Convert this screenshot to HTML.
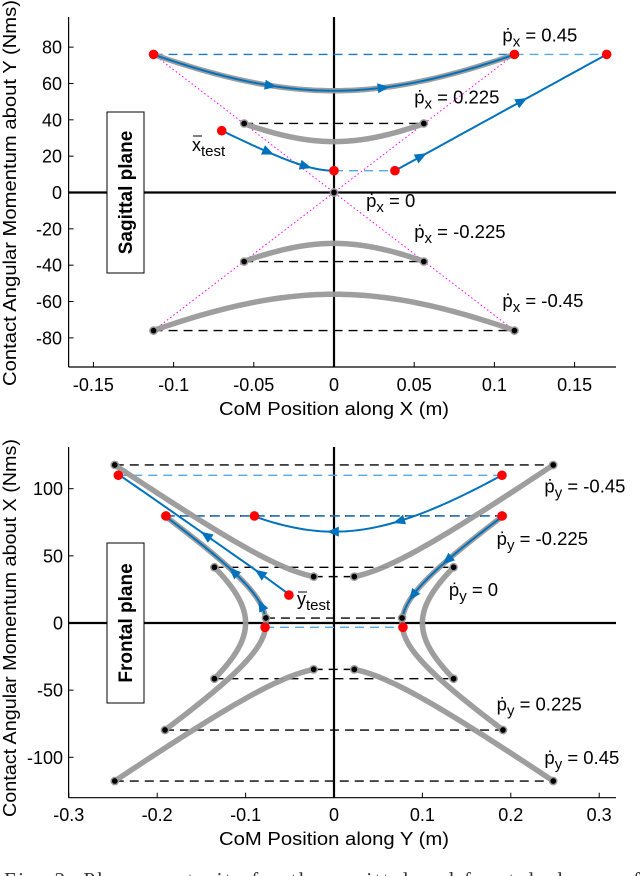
<!DOCTYPE html>
<html><head><meta charset="utf-8"><style>
html,body{margin:0;padding:0;background:#fff;width:640px;height:876px;overflow:hidden}
svg{display:block;font-family:"Liberation Sans",Arial,sans-serif}
</style></head><body>
<svg id="fig" width="640" height="876" viewBox="0 0 640 876">
<g id="top"></g>
<g id="bot"></g>
<text x="4" y="887" font-family="Liberation Serif,serif" font-size="21" fill="#333" textLength="636" lengthAdjust="spacing">Fig. 3:  Phase portraits for the sagittal and frontal planes of</text>
</svg>
<script>
// ---- data ----
const K = 207500;
// sagittal
const sagXTicks = [-0.15,-0.1,-0.05,0,0.05,0.1,0.15];
const sagXTickLabels = ["-0.15","-0.1","-0.05","0","0.05","0.1","0.15"];
const sagYTicks = [80,60,40,20,0,-20,-40,-60,-80];
const sagYTickLabels = ["80","60","40","20","0","-20","-40","-60","-80"];
const sagMins = [56,28,-28,-56];
const sagEndX = [0.1125,0.056,0.056,0.1125];
const sagEndL = [76,38,-38,-76];
const sagLabels = ["0.45","0.225","0","-0.225","-0.45"];
const sagLabelX = [0.105,0.05,0.02,0.05,0.105];
const sagLabelL = [83,49,-8,-25,-63];
const sagRed = [[-0.1125,76],[0.1125,76],[0.17,76],[-0.07,34],[0,12],[0.038,12]];
const sagTestMin = 12, sagTestStart = -0.07;
const sagLineStart = [0.038,12], sagLineEnd = [0.17,76];
// frontal
const frXTicks = [-0.3,-0.2,-0.1,0,0.1,0.2,0.3];
const frXTickLabels = ["-0.3","-0.2","-0.1","0","0.1","0.2","0.3"];
const frYTicks = [100,50,0,-50,-100];
const frYTickLabels = ["100","50","0","-50","-100"];
const frOuterMin = 32.9, frOuterY0 = 0.023, frOuterY1 = 0.248;
const frSideC = [0.01,0.00593];
const frSideL = [41.5,79.7];
const frLabels = ["-0.45","-0.225","0","0.225","0.45"];
const frLabelY = [0.238,0.184,0.13,0.184,0.238];
const frLabelL = [97,58,20,-65,-105];
const frRed = [[-0.244,110],[0.19,110],[-0.19,79.7],[-0.09,79.7],[0.19,79.7],[-0.051,20.8],[-0.078,-3.2],[0.078,-3.2]];
const frArcMin = 68;
const frTestC = 0.00041, frTestL0 = 20.8, frTestL1 = 110;

// ---- scales ----
const sx = x => 334 + x*1604, sy = v => 192.5 - v*1.817;
const fx = y => 334 + y*884, fy = v => 623 - v*1.343;
const NS = 'http://www.w3.org/2000/svg';
function mk(parent, tag, attrs){ const e=document.createElementNS(NS,tag); for(const k in attrs) e.setAttribute(k,attrs[k]); parent.appendChild(e); return e; }
function pstr(pts){ return pts.map((p,i)=>(i?'L':'M')+p[0].toFixed(2)+' '+p[1].toFixed(2)).join(''); }
function hypV(L0,x0,x1,n){ const s=Math.sign(L0)||1, r=[]; for(let i=0;i<=n;i++){const x=x0+(x1-x0)*i/n; r.push([x, s*Math.sqrt(L0*L0+K*x*x)]);} return r; }
function hypS(c,sg,L0,L1,n){ const r=[]; for(let i=0;i<=n;i++){const L=L0+(L1-L0)*i/n; r.push([sg*Math.sqrt(c+L*L/K), L]);} return r; }
function arrow(g, pts, t, name){
  const i=Math.max(1,Math.min(pts.length-1,Math.round(t*(pts.length-1))));
  const a=pts[i-1], b=pts[i]; const dx=b[0]-a[0], dy=b[1]-a[1], d=Math.hypot(dx,dy)||1;
  const ux=dx/d, uy=dy/d, cx=b[0], cy=b[1];
  const tip=[cx+ux*6,cy+uy*6], l=[cx-ux*6-uy*5,cy-uy*6+ux*5], r=[cx-ux*6+uy*5,cy-uy*6-ux*5];
  const e=mk(g,'path',{d:pstr([tip,l,r])+'Z',fill:'#0072BD'});
  
  
}
function line(g,x1,y1,x2,y2,st,name){ const e=mk(g,'line',Object.assign({x1,y1,x2,y2},st));   return e; }
function path(g,pts,st,name){ const e=mk(g,'path',Object.assign({d:pstr(pts),fill:'none'},st));   return e; }
function dot(g,x,y,kind,name){ const e = kind==='red'? mk(g,'circle',{cx:x,cy:y,r:4.8,fill:'#FF0000'}) : mk(g,'circle',{cx:x,cy:y,r:3.6,fill:'#000',stroke:'#999','stroke-width':1.5});   }
function txt(g,x,y,s,attrs,name){ const e=mk(g,'text',Object.assign({x,y,'font-size':18,fill:'#000'},attrs||{})); e.textContent=s;   return e; }
function pLabel(g,x,y,sub,val,name){
  const e=mk(g,'text',{x,y,'font-size':18.5,fill:'#000'});
   
  const a=mk(e,'tspan',{}); a.textContent='\u1E57';
  const b=mk(e,'tspan',{dy:5,'font-size':15}); b.textContent=sub;
  const c=mk(e,'tspan',{dy:-5}); c.textContent=' = '+val;
}
const GRAY={stroke:'#999','stroke-width':5.5,'stroke-linecap':'round','stroke-opacity':0.95};
const BLUE={stroke:'#0072BD','stroke-width':2};
const DASHK={stroke:'#000','stroke-width':1.4,'stroke-dasharray':'9,6'};
const DASHB={stroke:'#1f78c8','stroke-width':1.4,'stroke-dasharray':'9,6'};
const DASHLB={stroke:'#5aa8e0','stroke-width':1.4,'stroke-dasharray':'9,6'};
const MAG={stroke:'#ff00ff','stroke-width':1,'stroke-dasharray':'1.5,2.5'};

function axes(g,X0,X1,Y0,Y1,xs,ys,xt,xtl,yt,ytl,tickLabY,yLabX,xtitle,ytitle,ytitleY,ytitleLen,xtitleY){
  line(g,X0,Y1,X1,Y1,{stroke:'#000','stroke-width':1.2},'x-axis');
  line(g,X0,Y0,X0,Y1,{stroke:'#000','stroke-width':1.2},'y-axis');
  xt.forEach((v,i)=>{ line(g,xs(v),Y1,xs(v),Y1-5,{stroke:'#000','stroke-width':1},'x-tick');
    txt(g,xs(v),tickLabY,xtl[i],{'text-anchor':'middle'},'x-tick-label'); });
  yt.forEach((v,i)=>{ line(g,X0,ys(v),X0+5,ys(v),{stroke:'#000','stroke-width':1},'y-tick');
    txt(g,yLabX,ys(v)+6.5,ytl[i],{'text-anchor':'end'},'y-tick-label'); });
  txt(g,334,xtitleY,xtitle,{'text-anchor':'middle','font-size':18,textLength:230,lengthAdjust:'spacingAndGlyphs'},'x-axis-title');
  txt(g,0,0,ytitle,{'text-anchor':'middle','font-size':18,transform:`translate(16,${ytitleY}) rotate(-90)`,textLength:ytitleLen,lengthAdjust:'spacingAndGlyphs'},'y-axis-title');
}

// ---- sagittal ----
(function(){
  const g=document.getElementById('top');
  axes(g,68.6,616,17,367,sx,sy,sagXTicks,sagXTickLabels,sagYTicks,sagYTickLabels,391,62,'CoM Position along X (m)','Contact Angular Momentum about Y (Nms)',193,386,415);
  line(g,sx(0),17,sx(0),367,{stroke:'#000','stroke-width':2.2},'zero-vertical-line');
  line(g,68.6,sy(0),616,sy(0),{stroke:'#000','stroke-width':2.2},'zero-horizontal-line');
  line(g,sx(-sagEndX[0]),sy(sagEndL[0]),sx(sagEndX[0]),sy(-sagEndL[0]),MAG,'asymptote');
  line(g,sx(sagEndX[0]),sy(sagEndL[0]),sx(-sagEndX[0]),sy(-sagEndL[0]),MAG,'asymptote');
  sagEndL.forEach((L,i)=>{ if(i===0) return; line(g,sx(-sagEndX[i]),sy(L),sx(sagEndX[i]),sy(L),DASHK,'dashed-level'); });
  line(g,sx(-sagEndX[0]),sy(76),sx(sagEndX[0]),sy(76),DASHB,'dashed-level-blue');
  line(g,sx(sagEndX[0]),sy(76),sx(sagRed[2][0]),sy(76),DASHLB,'dashed-level-lightblue');
  line(g,sx(0),sy(sagTestMin),sx(sagLineStart[0]),sy(sagTestMin),DASHLB,'dashed-level-lightblue');
  sagMins.forEach((m,i)=>{ const p=hypV(m,-sagEndX[i],sagEndX[i],60).map(q=>[sx(q[0]),sy(q[1])]); path(g,p,GRAY,'trajectory-curve'); });
  const b1=hypV(sagMins[0],-sagEndX[0],sagEndX[0],80).map(q=>[sx(q[0]),sy(q[1])]);
  path(g,b1,BLUE,'blue-trajectory'); arrow(g,b1,0.33,'arrow'); arrow(g,b1,0.64,'arrow');
  const b2=hypV(sagTestMin,sagTestStart,0,60).map(q=>[sx(q[0]),sy(q[1])]);
  path(g,b2,BLUE,'blue-trajectory'); arrow(g,b2,0.42,'arrow'); arrow(g,b2,0.75,'arrow');
  const b3=[]; for(let i=0;i<=40;i++){const t=i/40; b3.push([sx(sagLineStart[0]+(sagLineEnd[0]-sagLineStart[0])*t), sy(sagLineStart[1]+(sagLineEnd[1]-sagLineStart[1])*t)]);}
  path(g,b3,BLUE,'blue-trajectory'); arrow(g,b3,0.13,'arrow'); arrow(g,b3,0.6,'arrow');
  sagEndL.forEach((L,i)=>{ dot(g,sx(-sagEndX[i]),sy(L),'k','endpoint'); dot(g,sx(sagEndX[i]),sy(L),'k','endpoint'); });
  dot(g,sx(0),sy(0),'k','origin-point');
  sagRed.forEach(p=>dot(g,sx(p[0]),sy(p[1]),'red','initial-state'));
  sagLabels.forEach((s,i)=>pLabel(g,sx(sagLabelX[i]),sy(sagLabelL[i]),'x',s,'velocity-label'));
  const xt=txt(g,192,151,'x',{'font-size':18},'x-test-label'); const ts=mk(xt,'tspan',{dy:5,'font-size':15}); ts.textContent='test';
  line(g,193,136,202,136,{stroke:'#000','stroke-width':1},'x-test-bar');
  const r=mk(g,'rect',{x:107,y:112,width:37,height:161,fill:'#fff',stroke:'#000','stroke-width':1});
   
  txt(g,0,0,'Sagittal plane',{'font-size':19,'font-weight':'bold','text-anchor':'middle',transform:'translate(132,192.5) rotate(-90)'},'sagittal-plane-label');
})();

// ---- frontal ----
(function(){
  const g=document.getElementById('bot');
  axes(g,68.6,616,447,797.7,fx,fy,frXTicks,frXTickLabels,frYTicks,frYTickLabels,821,63,'CoM Position along Y (m)','Contact Angular Momentum about X (Nms)',628,378,845);
  line(g,fx(0),447,fx(0),797.7,{stroke:'#000','stroke-width':2.2},'zero-vertical-line');
  line(g,68.6,fy(0),616,fy(0),{stroke:'#000','stroke-width':2.2},'zero-horizontal-line');
  const Lout=Math.sqrt(frOuterMin*frOuterMin+K*frOuterY1*frOuterY1), Lin=Math.sqrt(frOuterMin*frOuterMin+K*frOuterY0*frOuterY0);
  [1,-1].forEach(s=>{
    line(g,fx(-frOuterY1),fy(s*Lout),fx(frOuterY1),fy(s*Lout),DASHK,'dashed-level');
    line(g,fx(-frOuterY0),fy(s*Lin),fx(frOuterY0),fy(s*Lin),DASHK,'dashed-level');
    frSideC.forEach((c,i)=>{ const yy=Math.sqrt(c+frSideL[i]*frSideL[i]/K); line(g,fx(-yy),fy(s*frSideL[i]),fx(yy),fy(s*frSideL[i]),DASHK,'dashed-level'); });
  });
  line(g,fx(-0.077),fy(3.7),fx(0.077),fy(3.7),DASHK,'dashed-level');
  line(g,fx(frRed[0][0]),fy(110),fx(frRed[1][0]),fy(110),DASHLB,'dashed-level-lightblue');
  line(g,fx(frRed[2][0]),fy(79.7),fx(frRed[4][0]),fy(79.7),DASHB,'dashed-level-blue');
  line(g,fx(-0.078),fy(-3.2),fx(0.078),fy(-3.2),DASHLB,'dashed-level-lightblue');
  [1,-1].forEach(sl=>[1,-1].forEach(sg=>{
    const p=[]; for(let i=0;i<=50;i++){const y=frOuterY0+(frOuterY1-frOuterY0)*i/50; p.push([fx(sg*y),fy(sl*Math.sqrt(frOuterMin*frOuterMin+K*y*y))]);}
    path(g,p,GRAY,'trajectory-curve');
  }));
  [1,-1].forEach(sg=>frSideC.forEach((c,i)=>{ const p=hypS(c,sg,-frSideL[i],frSideL[i],70).map(q=>[fx(q[0]),fy(q[1])]); path(g,p,GRAY,'trajectory-curve'); }));
  const b1=[]; for(let i=0;i<=60;i++){const y=frRed[1][0]+(frRed[3][0]-frRed[1][0])*i/60; b1.push([fx(y),fy(Math.sqrt(frArcMin*frArcMin+K*y*y))]);}
  path(g,b1,BLUE,'blue-trajectory'); arrow(g,b1,0.42,'arrow'); arrow(g,b1,0.68,'arrow');
  const b2=hypS(frTestC,-1,frTestL0,frTestL1,60).map(q=>[fx(q[0]),fy(q[1])]);
  path(g,b2,BLUE,'blue-trajectory'); arrow(g,b2,0.18,'arrow'); arrow(g,b2,0.5,'arrow');
  const b3=hypS(frSideC[1],-1,-3.2,79.7,60).map(q=>[fx(q[0]),fy(q[1])]);
  path(g,b3,BLUE,'blue-trajectory'); arrow(g,b3,0.2,'arrow'); arrow(g,b3,0.5,'arrow');
  const b4=hypS(frSideC[1],1,79.7,-3.2,60).map(q=>[fx(q[0]),fy(q[1])]);
  path(g,b4,BLUE,'blue-trajectory'); arrow(g,b4,0.4,'arrow'); arrow(g,b4,0.72,'arrow');
  [1,-1].forEach(s=>[1,-1].forEach(sg=>{
    dot(g,fx(sg*frOuterY1),fy(s*Lout),'k','endpoint'); dot(g,fx(sg*frOuterY0),fy(s*Lin),'k','endpoint');
    frSideC.forEach((c,i)=>{ const yy=Math.sqrt(c+frSideL[i]*frSideL[i]/K); dot(g,fx(sg*yy),fy(s*frSideL[i]),'k','endpoint'); });
  }));
  dot(g,fx(-0.077),fy(3.7),'k','endpoint'); dot(g,fx(0.077),fy(3.7),'k','endpoint');
  frRed.forEach(p=>dot(g,fx(p[0]),fy(p[1]),'red','initial-state'));
  frLabels.forEach((s,i)=>pLabel(g,fx(frLabelY[i]),fy(frLabelL[i]),'y',s,'velocity-label'));
  const yt=txt(g,297,605,'y',{'font-size':18},'y-test-label'); const ts=mk(yt,'tspan',{dy:5,'font-size':15}); ts.textContent='test';
  line(g,298,592,307,592,{stroke:'#000','stroke-width':1},'y-test-bar');
  const r=mk(g,'rect',{x:107,y:543,width:37,height:160,fill:'#fff',stroke:'#000','stroke-width':1});
   
  txt(g,0,0,'Frontal plane',{'font-size':19,'font-weight':'bold','text-anchor':'middle',transform:'translate(132,623) rotate(-90)'},'frontal-plane-label');
})();
</script>
</body></html>
